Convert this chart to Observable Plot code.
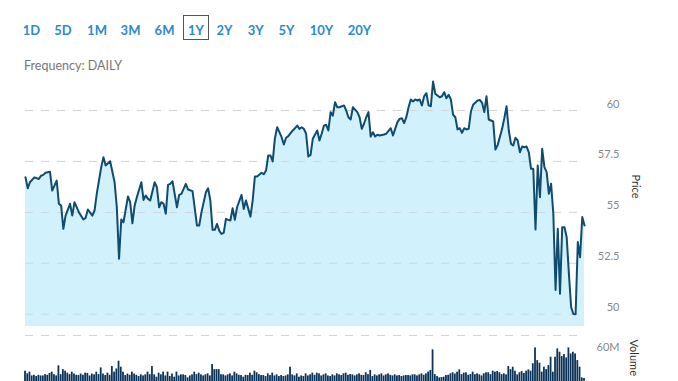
<!DOCTYPE html>
<html><head><meta charset="utf-8">
<script src="https://cdn.jsdelivr.net/npm/d3@7"></script>
<script src="https://cdn.jsdelivr.net/npm/@observablehq/plot@0.6"></script>
<style>
html,body{margin:0;padding:0;background:#fff;}
body{width:678px;height:381px;overflow:hidden;position:relative;font-family:Lato,"Open Sans",sans-serif;}
.btn{position:absolute;top:22px;line-height:16px;font-size:13px;font-weight:700;color:#2b8ad3;transform:translateX(-50%);white-space:nowrap;}
#box{position:absolute;left:183px;top:15px;width:26px;height:25px;border:1px solid #555;box-sizing:border-box;}
#freq{position:absolute;left:24px;top:58px;line-height:15px;font-size:12.5px;color:#777;}
#price,#volume{position:absolute;left:0;}
#price{top:0;}
#volume{top:330px;}
</style></head><body>
<div id="price"></div>
<div id="volume"></div>
<div id="box"></div>
<div id="buttons"></div>
<div id="freq">Frequency: DAILY</div>
<script>
const ranges = ["1D","5D","1M","3M","6M","1Y","2Y","3Y","5Y","10Y","20Y"];
const frequency = "DAILY";
const priceTicks = [50, 52.5, 55, 57.5, 60];
const volumeTicks = [60];
const days = [0,1,2,4,6,7,8,9,11,12,14,15,16,17,18,20,21,22,24,26,27,28,30,31,32,34,35,36,38,40,41,42,43,44,46,47,48,49,50,52,53,54,55,56,58,59,60,61,62,63,64,65,66,68,69,70,72,73,75,77,78,79,81,82,83,84,85,86,87,88,89,90,91,92,93,94,95,97,98,99,101,102,103,104,106,107,108,109,110,111,112,113,115,116,117,118,120,121,122,123,124,125,126,127,128,129,131,132,133,134,135,136,137,138,139,140,141,143,144,145,146,147,149,150,151,152,153,154,155,156,157,158,159,161,162,164,165,167,168,169,170,171,172,173,174,175,176,177,178,179,180,181,182,183,184,186,187,188,189,190,191,192,193,194,195,196,197,198,199,200,201,203,204,205,206,207,208,210,211,212,214,215,216,217,218,219,220,221,222,223,224,225,226,227,228,229,230,231,232,233,234,235,236,237,238,239,240,241,242,243,244,245,246,247,248,249,250,251];
const prices = [56.72,56.18,56.48,56.72,56.64,56.80,56.84,56.94,56.99,56.07,56.56,55.42,55.33,54.19,54.84,55.42,54.84,55.50,55.00,54.65,54.73,55.14,54.84,55.09,55.91,57.22,57.71,57.30,57.51,56.48,55.25,52.72,54.65,54.51,55.78,55.50,54.46,55.33,55.74,56.48,55.61,55.83,55.66,55.58,56.48,56.23,55.25,55.50,55.42,54.93,56.35,56.40,56.53,55.25,55.86,55.91,56.40,56.12,56.04,54.35,54.35,55.00,55.99,56.18,55.58,54.14,54.14,54.43,54.10,53.94,53.99,54.68,54.63,54.60,55.20,54.63,55.25,55.86,55.17,55.58,54.79,55.58,56.76,56.76,56.94,56.87,57.05,57.79,57.79,57.50,58.64,59.18,58.69,58.33,58.66,58.74,59.02,59.13,59.26,59.10,59.18,59.10,58.86,57.74,57.82,58.61,59.02,58.53,58.86,59.26,59.30,59.02,59.92,59.75,60.41,60.16,60.16,60.25,60.00,59.67,59.56,60.16,59.92,59.67,59.10,59.35,59.67,59.92,58.72,58.93,58.72,58.81,58.77,58.82,58.86,59.13,58.77,59.43,59.59,59.62,59.38,59.67,60.16,60.54,60.44,60.54,60.49,60.54,60.25,60.70,60.85,60.25,60.21,61.42,60.82,60.65,60.70,60.90,60.60,60.77,60.54,59.79,59.67,59.07,59.13,58.90,59.13,59.07,59.10,59.95,60.28,60.49,60.52,60.38,59.92,60.70,59.56,59.46,58.08,58.30,59.10,59.62,60.21,59.02,58.36,58.28,58.66,58.53,57.95,58.23,58.20,58.23,57.95,57.14,57.14,54.16,57.30,55.74,58.12,57.22,56.97,55.91,56.40,54.93,51.19,54.19,51.00,54.27,54.27,53.78,51.98,50.34,50.01,50.00,53.54,52.80,54.77,54.35];
const volumes = [19.5,15.3,18,12,13,11,13,12,12,14,13,16,18,14,12,28,14,22,19.5,16.4,14,18,15,13,12.6,15,13,16.4,16,12,15,13.7,18,14,24.7,15,12.6,16.4,13,26.8,18,23,35.3,25.8,18,12.6,15,13,18,15,13,11,13.7,12,13.7,18,14,26.8,13.7,10,16.4,13.7,18,12,18,11,15,10,18,12,13.7,13.7,12.6,8.9,12,13.7,18,14,16.4,13.7,12,13.7,15.3,12,30,22,22,22,14,13.7,12,13.7,15.3,12,18,15.3,13,12.6,10,13,12.6,16.4,13,19.5,17,14,12.6,12.6,11,15.3,12.6,16.4,12,13.7,11,12.6,11,12,13.7,25.8,13.7,12,15.3,10,12,11,15.3,12,13.7,16.4,13,16.4,15.3,12,13.7,15.3,12,11,13.7,12,15.3,13.7,12.6,15.3,16.4,13,14.2,13.7,12,13.7,15.3,13,12.6,17,14,20.7,11,13.7,12,13.7,15.3,12,13.7,15.3,13,12,13.7,12,12.6,11,12,12.6,12.6,12,13.7,13.7,12,13.7,15.3,13,15.3,18,20.7,53.2,14,11,8.9,9.5,10,12.6,13,15.3,17,15,18,21.6,14,16.4,17,13,14.2,18,14,15.3,13.7,12,15.3,17,17,14,19.5,18,19,17,14,15.3,13.7,26.8,22,25.8,19.5,13.7,17,19,16,19.5,21.6,19.5,31.3,56.3,36.3,32.1,18,25.8,22,28.4,41.6,18,41.6,54.8,49.5,42.6,45.8,40.5,56.3,46.8,49.5,46.8,36.3,25.8,8.9,8];

const priceData = days.map((d, i) => ({day: d, price: prices[i]}));
const volData = volumes.map((v, i) => ({day: i, vol: v}));
const yDomain = [49.396, 61.964];
const xDomain = [0, volumes.length - 1];

// header buttons
const centers = [31.5, 63, 97, 130.5, 164.5, 196, 224.5, 255.7, 286.5, 321.5, 359.5];
const btns = document.getElementById("buttons");
ranges.forEach((r, i) => {
  const s = document.createElement("div");
  s.className = "btn";
  s.style.left = centers[i] + "px";
  s.textContent = r;
  btns.appendChild(s);
});
document.getElementById("freq").textContent = "Frequency: " + frequency;

const style = {fontFamily: "Lato, 'Open Sans', sans-serif", fontSize: "11px", background: "transparent", overflow: "visible"};

const price = Plot.plot({
  width: 678, height: 330,
  marginLeft: 25, marginRight: 94, marginTop: 70, marginBottom: 4,
  style,
  x: {domain: xDomain, axis: null},
  y: {domain: yDomain, axis: null},
  marks: [
    Plot.areaY(priceData, {x: "day", y1: () => yDomain[0], y2: "price", fill: "#d1f2fd"}),
    Plot.gridY(priceTicks, {stroke: "#d4d4d4", strokeOpacity: 1, strokeDasharray: "8,8"}),
    Plot.lineY(priceData, {x: "day", y: "price", stroke: "#0f4c6f", strokeWidth: 2}),
    Plot.text(priceTicks, {y: d => d, text: d => String(d), frameAnchor: "right", dx: 35, dy: -6.5, textAnchor: "end", fill: "#888"}),
    Plot.text(["Price"], {text: d => d, frameAnchor: "right", dx: 51, rotate: 90, fill: "#333"})
  ]
});
document.getElementById("price").appendChild(price);

const vol = Plot.plot({
  width: 678, height: 51,
  marginLeft: 25, marginRight: 94, marginTop: 5, marginBottom: 0,
  style,
  x: {domain: xDomain, axis: null},
  y: {domain: [0, 76], range: [53, 5], axis: null},
  marks: [
    Plot.rectY(volData, {x1: d => d.day - 0.4, x2: d => d.day + 0.4, y: "vol", fill: "#0b3358"}),
    Plot.ruleY([76], {stroke: "#d4d4d4", strokeDasharray: "8,8"}),
    Plot.text(volumeTicks, {y: d => d, text: d => d + "M", frameAnchor: "right", dx: 35, dy: 2, textAnchor: "end", fill: "#888"}),
    Plot.text(["Volume"], {text: d => d, frameAnchor: "top-right", dx: 53, dy: 4, rotate: 90, textAnchor: "start", fill: "#333"})
  ]
});
document.getElementById("volume").appendChild(vol);
</script>
</body></html>
